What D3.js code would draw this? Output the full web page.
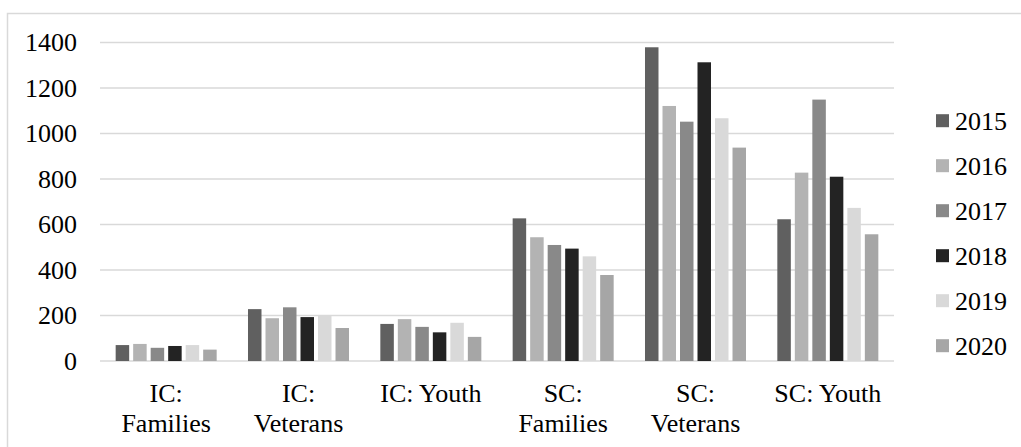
<!DOCTYPE html>
<html>
<head>
<meta charset="utf-8">
<script src="https://cdn.jsdelivr.net/npm/d3@7"></script>
<style>
  html, body { margin: 0; padding: 0; background: #fff; }
  svg { display: block; }
  text { font-family: "Liberation Serif", "Times New Roman", serif; fill: #000; }
</style>
</head>
<body>
<svg id="chart" width="1021" height="447"></svg>
<script>
// Program categories (two-line labels where the label wraps)
const categories = ["IC: Families", "IC: Veterans", "IC: Youth", "SC: Families", "SC: Veterans", "SC: Youth"];
const categoryLines = [["IC:", "Families"], ["IC:", "Veterans"], ["IC: Youth"], ["SC:", "Families"], ["SC:", "Veterans"], ["SC: Youth"]];
const years = ["2015", "2016", "2017", "2018", "2019", "2020"];
const yearColors = ["#606060", "#b3b3b3", "#898989", "#232323", "#d9d9d9", "#a6a6a6"];

// Counts per category, one array per year
const v2015 = [70, 228, 163, 627, 1379, 623];
const v2016 = [75, 188, 184, 544, 1121, 828];
const v2017 = [58, 236, 150, 510, 1052, 1149];
const v2018 = [66, 193, 126, 494, 1313, 810];
const v2019 = [70, 200, 168, 460, 1067, 673];
const v2020 = [50, 145, 106, 378, 938, 557];
const series = [v2015, v2016, v2017, v2018, v2019, v2020];

const yTicks = [0, 200, 400, 600, 800, 1000, 1200, 1400];

const svg = d3.select("#chart");
const plot = { left: 100, right: 894, top: 42.5, bottom: 361 };

// Outer frame
svg.append("rect")
  .attr("x", 7.5).attr("y", 13.5)
  .attr("width", 1030).attr("height", 460)
  .attr("fill", "none").attr("stroke", "#d9d9d9").attr("stroke-width", 1.5);

const y = d3.scaleLinear().domain([0, 1400]).range([plot.bottom, plot.top]);
const x0 = d3.scaleBand().domain(categories).range([plot.left, plot.right]).padding(0);
const x1 = d3.scaleBand().domain(years).range([0, x0.bandwidth()])
  .paddingInner(0.229).paddingOuter(0.895);

// Gridlines
svg.append("g").selectAll("line").data(yTicks).join("line")
  .attr("x1", plot.left).attr("x2", plot.right)
  .attr("y1", d => y(d)).attr("y2", d => y(d))
  .attr("stroke", "#d9d9d9").attr("stroke-width", 1.5);

// Y tick labels
svg.append("g").selectAll("text").data(yTicks).join("text")
  .attr("x", 77).attr("y", d => y(d) + 8.5)
  .attr("text-anchor", "end")
  .attr("font-size", 26)
  .text(d => d);

// Bars
const groups = svg.append("g").selectAll("g").data(categories).join("g")
  .attr("transform", c => `translate(${x0(c)},0)`);
groups.selectAll("rect")
  .data((c, ci) => years.map((yr, yi) => ({ yr, yi, value: series[yi][ci] })))
  .join("rect")
  .attr("x", d => x1(d.yr))
  .attr("width", x1.bandwidth())
  .attr("y", d => y(d.value))
  .attr("height", d => y(0) - y(d.value))
  .attr("fill", d => yearColors[d.yi]);

// Category labels
const xl = svg.append("g").selectAll("text").data(categories).join("text")
  .attr("x", c => x0(c) + x0.bandwidth() / 2)
  .attr("y", 401.5)
  .attr("text-anchor", "middle")
  .attr("font-size", 26);
xl.each(function(c, i) {
  d3.select(this).selectAll("tspan").data(categoryLines[i]).join("tspan")
    .attr("x", x0(c) + x0.bandwidth() / 2)
    .attr("dy", (d, j) => j === 0 ? 0 : 30)
    .text(d => d);
});

// Legend
const legend = svg.append("g").selectAll("g").data(years).join("g")
  .attr("transform", (d, i) => `translate(936,${120.7 + i * 45})`);
legend.append("rect")
  .attr("x", 0).attr("y", -6.5).attr("width", 13).attr("height", 13)
  .attr("fill", (d, i) => yearColors[i]);
legend.append("text")
  .attr("x", 19).attr("y", 9.3)
  .attr("font-size", 26)
  .text(d => d);
</script>
</body>
</html>
